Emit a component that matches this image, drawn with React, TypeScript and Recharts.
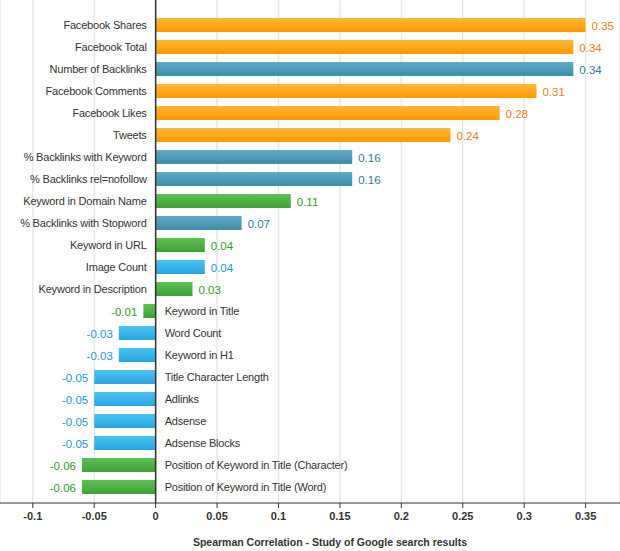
import { Bar, BarChart, CartesianGrid, Cell, LabelList, ReferenceLine, XAxis, YAxis } from "recharts";

const categories = [
  "Facebook Shares",
  "Facebook Total",
  "Number of Backlinks",
  "Facebook Comments",
  "Facebook Likes",
  "Tweets",
  "% Backlinks with Keyword",
  "% Backlinks rel=nofollow",
  "Keyword in Domain Name",
  "% Backlinks with Stopword",
  "Keyword in URL",
  "Image Count",
  "Keyword in Description",
  "Keyword in Title",
  "Word Count",
  "Keyword in H1",
  "Title Character Length",
  "Adlinks",
  "Adsense",
  "Adsense Blocks",
  "Position of Keyword in Title (Character)",
  "Position of Keyword in Title (Word)",
];

const values = [
  0.35, 0.34, 0.34, 0.31, 0.28, 0.24, 0.16, 0.16, 0.11, 0.07, 0.04, 0.04, 0.03,
  -0.01, -0.03, -0.03, -0.05, -0.05, -0.05, -0.05, -0.06, -0.06,
];

// colour group of each bar
const groups = [
  "social", "social", "links", "social", "social", "social", "links", "links", "keyword", "links",
  "keyword", "page", "keyword", "keyword", "page", "page", "page", "page", "page", "page",
  "keyword", "keyword",
];

const xTicks = [-0.1, -0.05, 0, 0.05, 0.1, 0.15, 0.2, 0.25, 0.3, 0.35];

const palette: Record<string, { top: string; bottom: string; text: string }> = {
  social: { top: "#ffb73a", bottom: "#ff9800", text: "#e57f10" },
  links: { top: "#5eabc3", bottom: "#3e8ea7", text: "#2f7d96" },
  keyword: { top: "#5ec152", bottom: "#3da235", text: "#2f9a2a" },
  page: { top: "#4cc2f2", bottom: "#28a6e2", text: "#2299d6" },
};

const rows = categories.map((name, i) => ({ name, value: values[i], group: groups[i] }));

const labelFont = "'Liberation Sans', Arial, sans-serif";

function edges(props: any) {
  const { x, width, index } = props;
  const v = values[index];
  const lo = Math.min(x, x + width);
  const hi = Math.max(x, x + width);
  return { v, zero: v >= 0 ? lo : hi, end: v >= 0 ? hi : lo };
}

const renderName = (props: any) => {
  const { y, height, index } = props;
  const { v, zero } = edges(props);
  return (
    <text
      x={v >= 0 ? zero - 9 : zero + 9}
      y={y + height / 2}
      dy="0.35em"
      textAnchor={v >= 0 ? "end" : "start"}
      fill="#333"
      fontSize={11}
      letterSpacing={-0.2}
      fontFamily={labelFont}
    >
      {categories[index]}
    </text>
  );
};

const renderValue = (props: any) => {
  const { y, height, index } = props;
  const { v, end } = edges(props);
  return (
    <text
      x={v >= 0 ? end + 6 : end - 6}
      y={y + height / 2 + 1}
      dy="0.35em"
      textAnchor={v >= 0 ? "start" : "end"}
      fill={palette[groups[index]].text}
      fontSize={11.5}
      fontFamily={labelFont}
    >
      {String(v)}
    </text>
  );
};

export default function App() {
  return (
    <div style={{ position: "absolute", left: 0, top: 0, width: 620, height: 551, background: "#fff" }}>
      <BarChart
        width={620}
        height={551}
        data={rows}
        layout="vertical"
        margin={{ top: 0, right: 0, bottom: 0, left: 0 }}
        barSize={14}
      >
        <defs>
          {Object.entries(palette).map(([key, c]) => (
            <linearGradient key={key} id={`grad-${key}`} x1="0" y1="0" x2="0" y2="1">
              <stop offset="0%" stopColor={c.top} />
              <stop offset="100%" stopColor={c.bottom} />
            </linearGradient>
          ))}
        </defs>
        <CartesianGrid horizontal={false} stroke="#e8e8e8" strokeWidth={1.5} />
        <XAxis
          type="number"
          domain={[-0.1267, 0.378]}
          ticks={xTicks}
          allowDataOverflow
          height={48}
          tickSize={5}
          tickMargin={4}
          axisLine={{ stroke: "#333" }}
          tickLine={{ stroke: "#333" }}
          tick={{ fill: "#333", fontSize: 11, fontWeight: 700, fontFamily: labelFont }}
          tickFormatter={(v: number) => String(v)}
          label={{
            value: "Spearman Correlation - Study of Google search results",
            position: "insideBottom",
            offset: 5,
            dx: 20,
            fill: "#333",
            fontSize: 10.5,
            fontWeight: 700,
            fontFamily: labelFont,
          }}
        />
        <YAxis type="category" dataKey="name" hide padding={{ top: 14, bottom: 5 }} />
        <Bar dataKey="value" isAnimationActive={false}>
          {rows.map((r, i) => (
            <Cell key={i} fill={`url(#grad-${r.group})`} />
          ))}
          <LabelList dataKey="name" content={renderName} />
          <LabelList dataKey="value" content={renderValue} />
        </Bar>
        <ReferenceLine x={0} stroke="#333" strokeWidth={1.5} />
      </BarChart>
    </div>
  );
}
